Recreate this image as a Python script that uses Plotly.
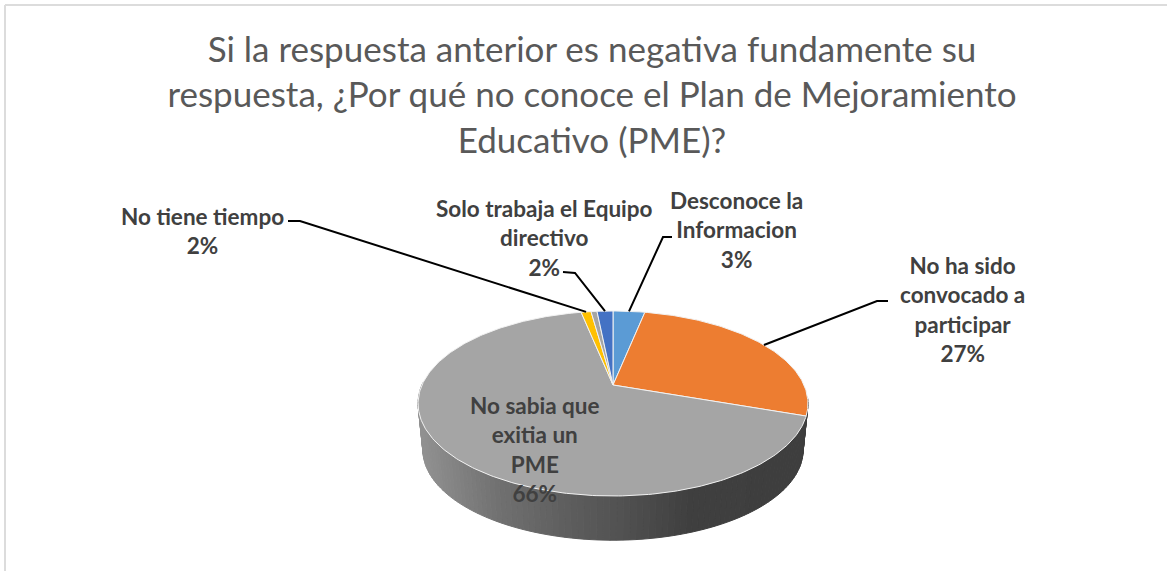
import numpy as np
import plotly.graph_objects as go

# ---- data ----
categories = ["Desconoce la<br>Informacion", "No ha sido<br>convocado a<br>participar",
              "No sabia que<br>exitia un<br>PME", "No tiene tiempo", "", "Solo trabaja el Equipo<br>directivo"]
values = [3.2, 27.1, 66.5, 1.0, 0.6, 1.6]
percent_labels = ["3%", "27%", "66%", "2%", "", "2%"]
colors = ["#5b9bd5", "#ed7d31", "#a5a5a5", "#ffc000", "#a5a5a5", "#4472c4"]
title_text = ("Si la respuesta anterior es negativa fundamente su<br>"
              "respuesta, ¿Por qué no conoce el Plan de Mejoramiento<br>"
              "Educativo (PME)?")
side_stops_x = [418, 500, 560, 620, 690, 808]
side_stops_gray = [146, 112, 96, 82, 64, 62]

# ---- projection of the tilted disc onto the page ----
CX, CY, C, B, A = 613, 385, 191, 88.8, 0.2
DEPTH, SHRINK = 47, 0.975


def top(theta):
    u, v = np.sin(theta), -np.cos(theta)
    d = 1 - A * v
    return CX + C * u / d, CY + B * v / d


def bottom(theta):
    x, y = top(theta)
    return CX + SHRINK * (x - CX), CY + SHRINK * (y - CY) + DEPTH


fig = go.Figure()

# side wall as thin strips
side = np.radians(np.linspace(97.5, 272, 110))
for a0, a1 in zip(side[:-1], side[1:]):
    arc = np.linspace(a0, a1, 3)
    xt, yt = top(arc)
    xb, yb = bottom(arc[::-1])
    g = int(np.interp((xt.mean()), side_stops_x, side_stops_gray))
    col = f"rgb({g},{g},{g})"
    fig.add_trace(go.Scatter(x=np.r_[xt, xb, xt[0]], y=np.r_[yt, yb, yt[0]], mode="lines",
                             fill="toself", fillcolor=col, line=dict(color=col, width=1),
                             hoverinfo="skip", showlegend=False))

# top face slices
edges = np.r_[0, np.cumsum(values)] / sum(values) * 2 * np.pi
for i, (name, col) in enumerate(zip(categories, colors)):
    th = np.linspace(edges[i], edges[i + 1], max(4, int(values[i] * 4)))
    x, y = top(th)
    fig.add_trace(go.Scatter(x=np.r_[CX, x, CX], y=np.r_[CY, y, CY], mode="lines",
                             fill="toself", fillcolor=col,
                             line=dict(color="#f2f2f2", width=1),
                             name=name.replace("<br>", " "), hoverinfo="name", showlegend=False))

# leader lines: from slice rim through an elbow to the label
mids = (edges[:-1] + edges[1:]) / 2
elbows = {0: [(663, 237), (672, 237)], 1: [(877, 301), (888, 301)],
          3: [(300, 221), (288, 221)], 5: [(575, 273), (563, 272)]}
for i, pts in elbows.items():
    x0, y0 = top(mids[i])
    fig.add_trace(go.Scatter(x=[float(x0)] + [p[0] for p in pts], y=[float(y0)] + [p[1] for p in pts],
                             mode="lines", line=dict(color="black", width=2),
                             hoverinfo="skip", showlegend=False))

# data labels
label_pos = {0: (736, 230), 1: (962, 309), 2: (535, 449), 3: (202, 231), 5: (544, 238)}
for i, (lx, ly) in label_pos.items():
    fig.add_annotation(x=lx, y=ly, text=f"<b>{categories[i]}<br>{percent_labels[i]}</b>", showarrow=False,
                       font=dict(family="Lato", size=22.5, color="#404040"), align="center",
                       xanchor="center", yanchor="middle")

fig.update_layout(
    width=1167, height=571, margin=dict(l=0, r=0, t=0, b=0),
    paper_bgcolor="white", plot_bgcolor="white", showlegend=False,
    title=dict(text=title_text, x=592 / 1167, xanchor="center", y=0.892, yanchor="top",
               font=dict(family="Lato", size=35, color="#595959")),
    xaxis=dict(range=[0, 1167], visible=False, fixedrange=True),
    yaxis=dict(range=[571, 0], visible=False, fixedrange=True),
    shapes=[
        dict(type="line", x0=5, x1=1167, y0=5, y1=5, line=dict(color="#dcdcdc", width=2)),
        dict(type="line", x0=5, x1=5, y0=5, y1=571, line=dict(color="#dcdcdc", width=2)),
    ],
)
fig.write_html("out.html", config=dict(displayModeBar=False),
               post_script="document.body.style.margin='0';document.body.style.overflow='hidden';")
